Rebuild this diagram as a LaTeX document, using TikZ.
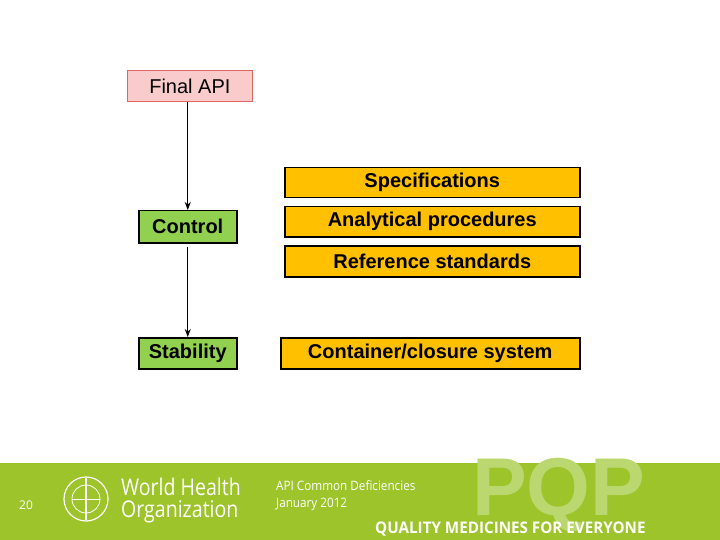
\documentclass[tikz,border=0pt]{standalone}
\usepackage{fontspec}
\setmainfont{Liberation Sans}
\newfontfamily\narrowf{Open Sans}
\usetikzlibrary{arrows.meta}
\definecolor{pinkf}{HTML}{F9CBCB}
\definecolor{pinkd}{HTML}{E06666}
\definecolor{greenf}{HTML}{92D050}
\definecolor{orangef}{HTML}{FFC000}
\definecolor{band}{HTML}{9DC42A}
\definecolor{pqp}{HTML}{BBD870}
\begin{document}
\begin{tikzpicture}[x=1pt,y=-1pt,
  box/.style={draw=black,line width=1.5pt,font=\bfseries\fontsize{20}{22}\selectfont,inner sep=0pt,anchor=north west},
  arr/.style={-{Stealth[length=8pt,width=6pt]},line width=1.2pt}]
\useasboundingbox (0,0) rectangle (720,540);
\fill[white] (0,0) rectangle (720,540);
\node[box,draw=pinkd,line width=0.8pt,fill=pinkf,font=\fontsize{20}{22}\selectfont,minimum width=125pt,minimum height=31pt] (fin) at (127,70) {Final API};
\node[box,fill=greenf,minimum width=98pt,minimum height=32pt] (ctl) at (138,210) {Control};
\node[box,fill=greenf,minimum width=98pt,minimum height=31pt] (stb) at (138,337) {Stability};
\node[box,fill=orangef,minimum width=295pt,minimum height=30pt] (spec) at (284,167) {Specifications};
\node[box,fill=orangef,minimum width=295pt,minimum height=30pt] (ana) at (284,206) {Analytical procedures};
\node[box,fill=orangef,minimum width=295pt,minimum height=31pt] (ref) at (284,245) {Reference standards};
\node[box,fill=orangef,minimum width=299pt,minimum height=31pt] (cont) at (280,337) {Container/closure system};
\draw[arr] (ctl.north |- fin.south) -- (ctl.north);
\draw[arr] ([yshift=-3pt]ctl.south) -- (stb.north);
% band
\fill[band] (0,463) rectangle (720,540);
\node[text=pqp,font=\bfseries\fontsize{82}{82}\selectfont,anchor=north west,inner sep=0pt] (pqpt) at (472,458) {PQP};
\node[text=white,font=\narrowf\fontsize{12}{12}\selectfont] (num) at (26,505) {20};
% logo
\draw[white,line width=1.2pt] (86,499) circle (22pt);
\draw[white,line width=0.8pt] (86,499) circle (14pt);
\draw[white,line width=0.6pt] (72,499) -- (100,499) (86,485) -- (86,513);
\draw[white,line width=1.5pt] (86,478) -- (86,520);
\node[text=white,font=\narrowf\fontsize{23}{22}\selectfont,anchor=west,inner sep=0pt,xscale=0.85,align=left] (who) at (121,501) {World Health\\Organization};
\node[text=white,font=\narrowf\fontsize{13}{17}\selectfont,anchor=north west,inner sep=0pt,align=left,xscale=0.9] (sub) at (276,480) {API Common Deficiencies\\January 2012};
\node[text=white,font=\narrowf\bfseries\fontsize{16}{16}\selectfont,anchor=west,inner sep=0pt,xscale=0.95] (qm) at (375,529) {QUALITY MEDICINES FOR EVERYONE};
\end{tikzpicture}
\end{document}
